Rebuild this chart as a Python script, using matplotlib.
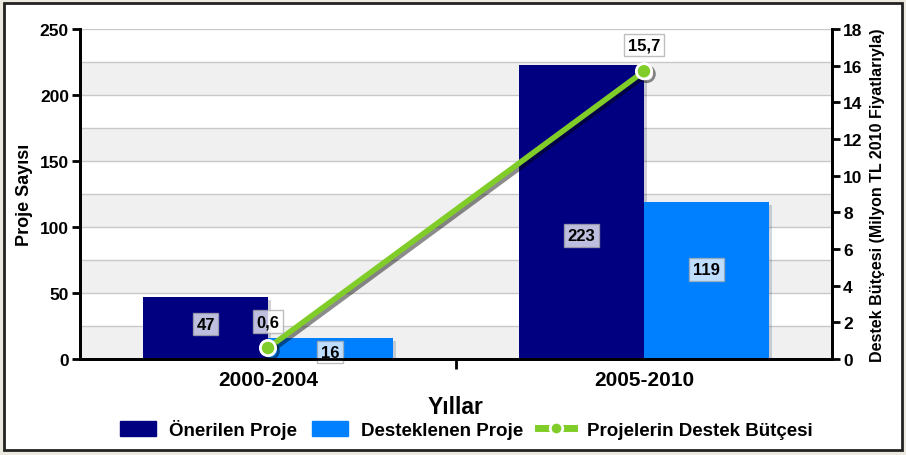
import numpy as np
import matplotlib
matplotlib.use("Agg")
from matplotlib import pyplot as plt
from matplotlib import patheffects as pe
from matplotlib.patches import Rectangle
from matplotlib.lines import Line2D

plt.rcParams['font.family'] = ['Liberation Sans', 'DejaVu Sans']
plt.rcParams['font.weight'] = 'bold'
plt.rcParams['axes.labelweight'] = 'bold'

years = ['2000-2004', '2005-2010']
onerilen = [47, 223]
desteklenen = [16, 119]
butce = [0.6, 15.7]
butce_txt = ['0,6', '15,7']

navy = '#000080'
blue = '#0080ff'
green = '#80cc28'

fig = plt.figure(figsize=(9.06, 4.56), dpi=100)
fig.patch.set_facecolor('#ece9e0')
fig.patches.append(Rectangle((0.004, 0.012), 0.992, 0.98, transform=fig.transFigure,
                             facecolor='white', edgecolor='#222222', linewidth=2, zorder=-10))

ax = fig.add_axes([0.0883, 0.2105, 0.83, 0.7235])
ax.set_facecolor('none')
x = np.arange(len(years))
w = 0.332

# alternating bands
for lo in range(0, 250, 50):
    ax.axhspan(lo, lo + 25, color='#f0f0f0', zorder=0, lw=0)
for g in range(25, 251, 25):
    ax.axhline(g, color='#c8c8c8', lw=1, zorder=0.5)

shadow = [pe.SimplePatchShadow(offset=(2, -2), alpha=0.18), pe.Normal()]
b1 = ax.bar(x - w / 2, onerilen, w, color=navy, zorder=2)
b2 = ax.bar(x + w / 2, desteklenen, w, color=blue, zorder=2)
for b in list(b1) + list(b2):
    b.set_path_effects(shadow)

box = dict(boxstyle='square,pad=0.22', fc='white', ec='#aaaaaa', alpha=0.75, lw=1)
lab_frac = [[0.56, 0.42], [0.33, 0.57]]
for i in range(len(years)):
    ax.text(x[i] - w / 2, onerilen[i] * lab_frac[0][i], str(onerilen[i]), ha='center', va='center',
            fontsize=12, bbox=box, zorder=5)
    ax.text(x[i] + w / 2, desteklenen[i] * lab_frac[1][i], str(desteklenen[i]), ha='center', va='center',
            fontsize=12, bbox=box, zorder=5)

ax.set_xlim(-0.5, 1.5)
ax.set_ylim(0, 250)
ax.set_yticks(range(0, 251, 50))
ax.set_xticks(x)
ax.set_xticklabels(years, fontsize=15)
ax.set_xticks([0.5], minor=True)
ax.tick_params(axis='x', which='major', length=0, pad=8)
ax.tick_params(axis='x', which='minor', length=7, width=2)
ax.tick_params(axis='y', labelsize=12.5, length=6, width=2, pad=2)
for s in ['left', 'bottom', 'right']:
    ax.spines[s].set_linewidth(2)
ax.spines['top'].set_visible(False)
ax.set_ylabel('Proje Sayısı', fontsize=13, labelpad=5)
ax.set_xlabel('Yıllar', fontsize=16.5, labelpad=4)

ax2 = ax.twinx()
ax2.set_ylim(0, 18)
ax2.set_yticks(range(0, 19, 2))
ax2.tick_params(axis='y', labelsize=12.5, length=6, width=2, pad=2)
for s in ['left', 'bottom', 'right']:
    ax2.spines[s].set_linewidth(2)
ax2.spines['top'].set_visible(False)
ax2.set_ylabel('Destek Bütçesi (Milyon TL 2010 Fiyatlarıyla)', fontsize=11.5, labelpad=5)
ax2.plot(x, butce, color=green, lw=4, marker='o', markersize=11, markerfacecolor=green,
         markeredgecolor='white', markeredgewidth=2, zorder=4,
         path_effects=[pe.SimpleLineShadow(offset=(2, -2), alpha=0.45), pe.Normal()])
for i in range(len(years)):
    ax2.annotate(butce_txt[i], (x[i], butce[i]), xytext=(0, 19), textcoords='offset points',
                 ha='center', va='center', fontsize=12, bbox=box, zorder=5)

handles = [Rectangle((0, 0), 1, 1, color=navy), Rectangle((0, 0), 1, 1, color=blue),
           Line2D([], [], color=green, lw=5, marker='o', markersize=9, markerfacecolor=green,
                  markeredgecolor='white', markeredgewidth=2)]
fig.legend(handles, ['Önerilen Proje', 'Desteklenen Proje', 'Projelerin Destek Bütçesi'],
           loc='center', bbox_to_anchor=(0.515, 0.057), ncol=3, frameon=False, fontsize=13.5,
           handlelength=1.9, handleheight=0.9, columnspacing=0.8, handletextpad=0.7)

fig.savefig('out.png', dpi=100, facecolor=fig.get_facecolor())
